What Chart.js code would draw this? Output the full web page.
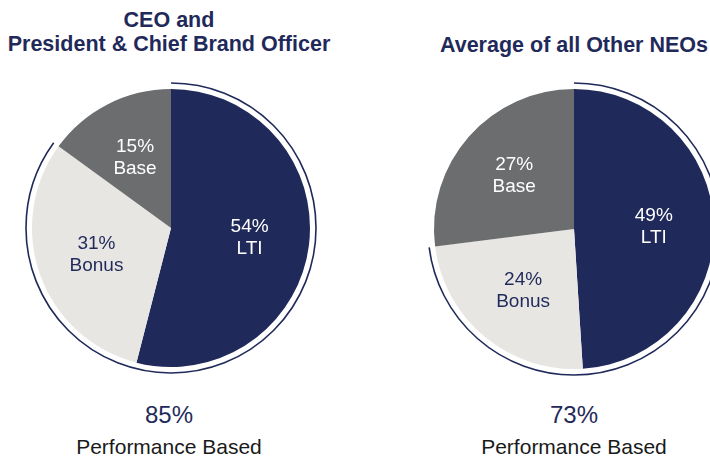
<!DOCTYPE html>
<html>
<head>
<meta charset="utf-8">
<script src="https://cdn.jsdelivr.net/npm/chart.js"></script>
<style>
  html, body { margin: 0; padding: 0; background: #fff; }
  body { width: 710px; height: 457px; position: relative; overflow: hidden; font-family: "Liberation Sans", Arial, sans-serif; }
  .title { position: absolute; color: #1f2a5a; font-weight: bold; font-size: 21.5px; line-height: 24px; text-align: center; white-space: nowrap; }
  .pct { position: absolute; color: #1f2a5a; font-size: 24px; line-height: 28px; text-align: center; width: 300px; }
  .perf { position: absolute; color: #1a1a1a; font-size: 21px; line-height: 24px; text-align: center; width: 300px; }
  canvas { position: absolute; }
</style>
</head>
<body>

<div class="title" style="left:-31px; top:8px; width:400px;">CEO and<br>President &amp; Chief Brand Officer</div>
<div class="title" style="left:374px; top:33px; width:400px;">Average of all Other NEOs</div>

<canvas id="ceoChart" width="310" height="310" style="left:16px; top:73px;"></canvas>
<canvas id="neoChart" width="312" height="312" style="left:418px; top:73px;"></canvas>

<div class="pct" id="ceoPct" style="left:19px; top:401px;"></div>
<div class="perf" style="left:19px; top:435px;">Performance Based</div>
<div class="pct" id="neoPct" style="left:424px; top:401px;"></div>
<div class="perf" style="left:424px; top:435px;">Performance Based</div>

<script>
// ---- data ----
const segments = ['LTI', 'Bonus', 'Base'];
const ceoValues = [54, 31, 15];
const neoValues = [49, 24, 27];
const performanceSegments = ['LTI', 'Bonus'];

// ---- styles ----
const segmentColors = ['#1f2a5a', '#e8e6e3', '#6c6d6f'];
const labelColors = ['#ffffff', '#1f2a5a', '#ffffff'];
const navy = '#1f2a5a';

function performanceTotal(values) {
    return segments.reduce((sum, s, i) => performanceSegments.includes(s) ? sum + values[i] : sum, 0);
}

// labels inside each slice + thin outer arc round the performance based part
const pieExtras = {
    id: 'pieExtras',
    afterDatasetsDraw(chart) {
        const ctx = chart.ctx;
        const meta = chart.getDatasetMeta(0);
        const values = chart.data.datasets[0].data;

        // outer arc
        const idx = segments.map((s, i) => performanceSegments.includes(s) ? i : -1).filter(i => i >= 0);
        const first = meta.data[idx[0]];
        const last = meta.data[idx[idx.length - 1]];
        ctx.save();
        ctx.beginPath();
        ctx.strokeStyle = navy;
        ctx.lineWidth = 1.6;
        ctx.arc(first.x, first.y, first.outerRadius + 6, first.startAngle, last.endAngle);
        ctx.stroke();
        ctx.restore();

        // slice labels
        ctx.save();
        ctx.font = '19px "Liberation Sans", Arial, sans-serif';
        ctx.textAlign = 'center';
        ctx.textBaseline = 'middle';
        meta.data.forEach((arc, i) => {
            const mid = (arc.startAngle + arc.endAngle) / 2;
            const d = arc.outerRadius * 0.57;
            const x = arc.x + Math.cos(mid) * d;
            const y = arc.y + Math.sin(mid) * d;
            ctx.fillStyle = labelColors[i];
            ctx.fillText(values[i] + '%', x, y - 11);
            ctx.fillText(segments[i], x, y + 11);
        });
        ctx.restore();
    }
};

function makePie(id, values) {
    return new Chart(document.getElementById(id), {
        type: 'pie',
        data: {
            labels: segments,
            datasets: [{
                data: values,
                backgroundColor: segmentColors,
                borderWidth: 0,
                hoverOffset: 0
            }]
        },
        options: {
            responsive: false,
            devicePixelRatio: 1,
            animation: false,
            layout: { padding: 16 },
            plugins: {
                legend: { display: false },
                tooltip: { enabled: false }
            }
        },
        plugins: [pieExtras]
    });
}

makePie('ceoChart', ceoValues);
makePie('neoChart', neoValues);

document.getElementById('ceoPct').textContent = performanceTotal(ceoValues) + '%';
document.getElementById('neoPct').textContent = performanceTotal(neoValues) + '%';
</script>
</body>
</html>
